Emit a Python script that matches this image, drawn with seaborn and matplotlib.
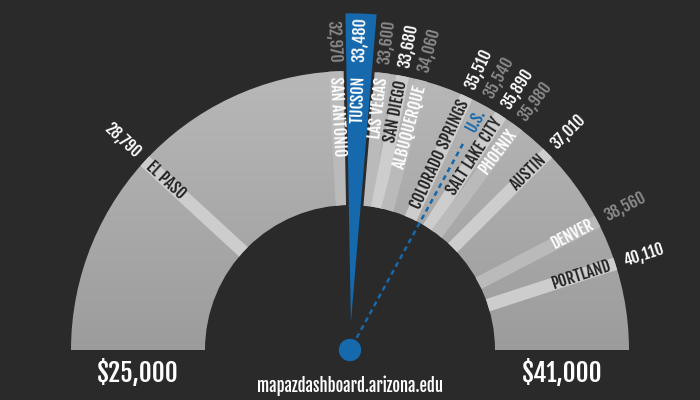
import numpy as np
import matplotlib
import matplotlib.pyplot as plt
import seaborn as sns
from matplotlib.patches import Wedge, Circle
from matplotlib.colors import LinearSegmentedColormap

# median earnings by city
cities = ["El Paso", "San Antonio", "Tucson", "Las Vegas", "San Diego", "Albuquerque",
          "Colorado Springs", "U.S.", "Salt Lake City", "Phoenix", "Austin", "Denver", "Portland"]
incomes = [28790, 32970, 33480, 33600, 33680, 34060, 35510, 35540, 35890, 35980, 37010, 38560, 40110]
scale_min, scale_max = 25000, 41000
scale_labels = ["$25,000", "$41,000"]
highlight = "Tucson"
benchmark = "U.S."
source = "mapazdashboard.arizona.edu"

# style groups
light_band = {"El Paso", "San Diego", "Colorado Springs", "Salt Lake City", "Austin", "Portland"}

bg = "#2a2a2a"
blue = "#1669ad"
sns.set_style("dark", {"axes.facecolor": bg, "figure.facecolor": bg})
plt.rcParams["font.family"] = ["Fjalla One", "Oswald", "DejaVu Sans"]

fig = plt.figure(figsize=(7, 4), dpi=100)
ax = fig.add_axes([0, 0, 1, 1])
ax.set_xlim(0, 700)
ax.set_ylim(0, 400)
ax.set_aspect("equal")
ax.axis("off")

cx, cy = 350, 50
r_out, r_in = 279, 145


def to_angle(v):
    return 180.0 * (1 - (v - scale_min) / (scale_max - scale_min))


def spread(angles, half):
    # angles descending; push apart labels that overlap (half = angular half-width)
    def offsets(b):
        o = [0.0]
        for a, c in zip(b[:-1], b[1:]):
            o.append(o[-1] - half[a] - half[c])
        return o

    def centre(b):
        return np.mean([angles[j] - o for j, o in zip(b, offsets(b))])

    blocks = []
    for i in range(len(angles)):
        blocks.append([i])
        while len(blocks) > 1:
            p, q = blocks[-2], blocks[-1]
            bottom = centre(p) + offsets(p)[-1]
            top = centre(q)
            if bottom - top < half[p[-1]] + half[q[0]]:
                blocks[-2:] = [p + q]
            else:
                break
    out = []
    for b in blocks:
        c = centre(b)
        out += [c + o for o in offsets(b)]
    return np.clip(out, 18, 162)


half_width = [3.0 if c == highlight else 2.0 for c in cities]
theta = spread([to_angle(v) for v in incomes], half_width)


def xy(r, t):
    t = np.radians(t)
    return cx + r * np.cos(t), cy + r * np.sin(t)


# gauge body with vertical gradient
ring = Wedge((cx, cy), r_out, 0, 180, width=r_out - r_in, facecolor="none", edgecolor="none")
ax.add_patch(ring)
cmap = LinearSegmentedColormap.from_list("g", ["#9c9c9c", "#b8b8b8"])
grad = np.linspace(0, 1, 256).reshape(-1, 1)
img = ax.imshow(grad, extent=[cx - r_out, cx + r_out, cy, cy + r_out], origin="lower",
                cmap=cmap, aspect="auto", zorder=1)
img.set_clip_path(ring)

# label bands
for name, t in zip(cities, theta):
    if name in (highlight, benchmark):
        continue
    x0, y0 = xy(r_in - 5, t)
    x1, y1 = xy(r_out + 5, t)
    col = "#cdcdcd" if name in light_band else "#bababa"
    ln, = ax.plot([x0, x1], [y0, y1], color=col, lw=9.2, solid_capstyle="butt", zorder=2)
    ln.set_clip_path(ring)

# highlighted city wedge
ti = cities.index(highlight)
ax.add_patch(Wedge((cx, cy), 338, theta[ti] - 2.9, theta[ti] + 2.9, facecolor=blue,
                   edgecolor=bg, lw=2.0, zorder=3))

# benchmark dashed line
bi = cities.index(benchmark)
x0, y0 = xy(14, theta[bi])
x1, y1 = xy(238, theta[bi])
ax.plot([x0, x1], [y0, y1], color=blue, lw=1.8, dashes=(2, 1.6), zorder=3)
ax.add_patch(Circle((cx, cy), 10.5, color=blue, zorder=5))

# labels
for name, v, t in zip(cities, incomes, theta):
    right = t < 90
    rot = t if right else t - 180
    if name == highlight:
        c_name, c_val = "white", "white"
    elif name == benchmark:
        c_name, c_val = blue, "#8a8a8a"
    elif name in light_band:
        c_name, c_val = "#232323", "white"
    else:
        c_name, c_val = "white", "#8a8a8a"
    px, py = xy(274, t)
    ax.text(px, py, name.upper(), rotation=rot, rotation_mode="anchor",
            ha="right" if right else "left", va="center", color=c_name, fontsize=11.5, zorder=6)
    px, py = xy(288, t)
    ax.text(px, py, f"{v:,}", rotation=rot, rotation_mode="anchor",
            ha="left" if right else "right", va="center", color=c_val, fontsize=11.5, zorder=6)

ax.text(cx - (r_out + r_in) / 2, 27, scale_labels[0], ha="center", va="center",
        color="white", fontsize=18)
ax.text(cx + (r_out + r_in) / 2, 27, scale_labels[1], ha="center", va="center",
        color="white", fontsize=18)
ax.text(cx, 14, source, ha="center", va="center", color="white", fontsize=12)

fig.savefig("out.png", dpi=100, facecolor=bg)
